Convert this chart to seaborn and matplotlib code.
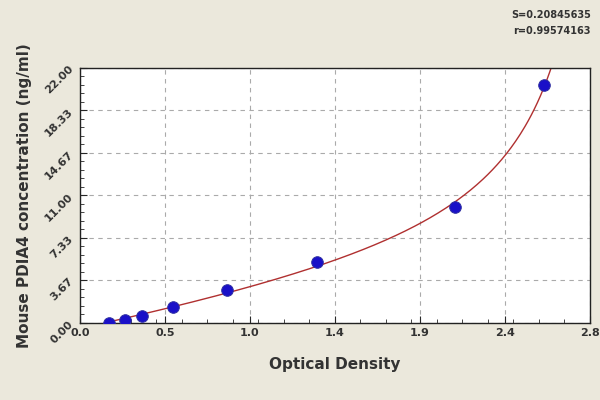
import numpy as np
import matplotlib
matplotlib.use("Agg")
import matplotlib.pyplot as plt
import seaborn as sns

od = [0.158, 0.25, 0.34, 0.51, 0.81, 1.30, 2.06, 2.55]
conc = [0.0, 0.26, 0.6, 1.4, 2.85, 5.26, 10.0, 20.5]
xticks = [0.0, 0.4667, 0.9333, 1.4, 1.8667, 2.3333, 2.8]
xlabels = ["0.0", "0.5", "1.0", "1.4", "1.9", "2.4", "2.8"]
yticks = [0, 3.667, 7.333, 11, 14.667, 18.333, 22]
ylabels = ["0.00", "3.67", "7.33", "11.00", "14.67", "18.33", "22.00"]

sns.set_style("white")
bg = "#ebe8dc"
fig = plt.figure(figsize=(6, 4), dpi=100, facecolor=bg)
ax = fig.add_axes([0.133, 0.193, 0.85, 0.637])

# fit y = a + b*x + c*x/(K - x) by least squares over a grid of K
X = np.array(od); Y = np.array(conc)
best = None
for K in np.linspace(3.0, 6.0, 301):
    A = np.column_stack([np.ones_like(X), X, X / (K - X)])
    sol, *_ = np.linalg.lstsq(A, Y, rcond=None)
    err = np.sum((A @ sol - Y) ** 2)
    if best is None or err < best[0]:
        best = (err, K, sol)
_, K, sol = best
xs = np.linspace(0.15, 2.7, 300)
ys = sol[0] + sol[1] * xs + sol[2] * xs / (K - xs)
ax.plot(xs, ys, color="#b03030", lw=1)
sns.scatterplot(x=od, y=conc, ax=ax, color="#1a10c8", s=70, edgecolor="#3030a0", zorder=3)

ax.set_xlim(0, 2.8)
ax.set_ylim(0, 22)
ax.set_xticks(xticks)
ax.set_xticklabels(xlabels, fontsize=8, fontweight="bold", color="#333333")
ax.set_yticks(yticks)
ax.set_yticklabels(ylabels, fontsize=8, fontweight="bold", color="#333333", rotation=45)
ax.set_xticks(np.linspace(0, 2.8, 21), minor=True)
ax.set_yticks(np.linspace(0, 22, 31), minor=True)
ax.tick_params(which="both", direction="in", length=3, left=True, bottom=True)
ax.tick_params(which="major", length=5)
ax.grid(True, which="major", linestyle=(0, (4, 4)), color="#aaaaaa", lw=0.8)
for s in ax.spines.values():
    s.set_color("#222222"); s.set_linewidth(1)
ax.set_xlabel("Optical Density", fontsize=11, fontweight="bold", color="#333333", labelpad=14)
ax.set_ylabel("Mouse PDIA4 concentration (ng/ml)", fontsize=11, fontweight="bold", color="#333333", labelpad=8)
fig.text(0.985, 0.955, "S=0.20845635", ha="right", fontsize=7, fontweight="bold", color="#333333")
fig.text(0.985, 0.915, "r=0.99574163", ha="right", fontsize=7, fontweight="bold", color="#333333")
fig.savefig("out.png", dpi=100, facecolor=bg)
